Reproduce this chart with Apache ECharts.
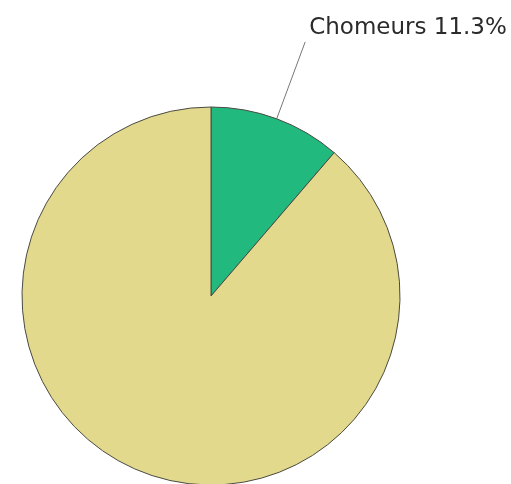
<!DOCTYPE html>
<html><head><meta charset="utf-8">
<script src="https://cdn.jsdelivr.net/npm/echarts@6/dist/echarts.min.js"></script>
<style>html,body{margin:0;padding:0;background:#fff}#c{width:511px;height:484px}</style>
</head><body><div id="c"></div>
<script>
const categories = ['Chomeurs', 'Actifs occupés'];
const values = [11.3, 88.7];
const showLabel = [true, false];
const colors = ['#22b97f', '#e2d98d'];

const chart = echarts.init(document.getElementById('c'));
chart.setOption({
  animation: false,
  series: [{
    type: 'pie',
    center: [211, 296],
    radius: 189,
    startAngle: 90,
    clockwise: true,
    data: categories.map((n, i) => ({
      name: n, value: values[i],
      itemStyle: {color: colors[i]},
      label: {show: showLabel[i]},
      labelLine: {show: showLabel[i]}
    })),
    itemStyle: {borderColor: '#4a4a42', borderWidth: 1},
    label: {
      position: 'outside',
      formatter: p => p.name + ' ' + p.value.toFixed(1) + '%\n ',
      fontFamily: 'DejaVu Sans',
      fontSize: 23,
      lineHeight: 27,
      color: '#2b2b2b',
      distanceToLabelLine: 4,
      overflow: 'none',
      edgeDistance: 0
    },
    labelLine: {length: 82, length2: 0, lineStyle: {color: '#777', width: 1}}
  }]
});
</script></body></html>
